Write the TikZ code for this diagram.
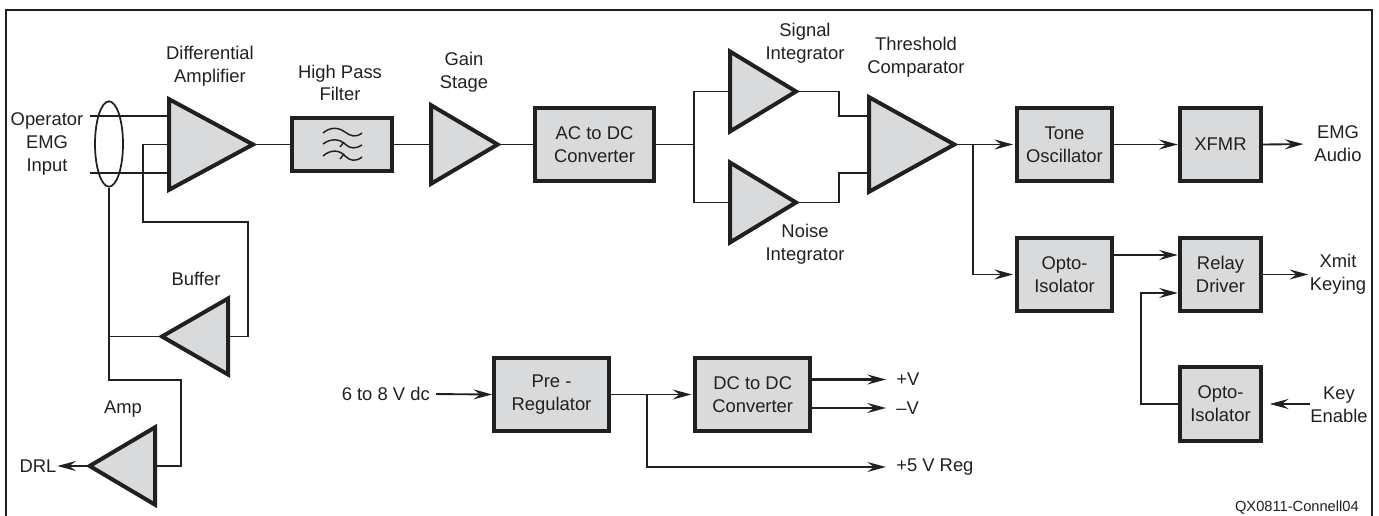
\documentclass[tikz,border=0pt]{standalone}
\usepackage{fontspec}
\setmainfont{Liberation Sans}
\usetikzlibrary{arrows.meta,shapes.geometric}
\definecolor{blockgray}{HTML}{D9DADB}
\definecolor{inkblack}{HTML}{231F20}
\tikzset{
  blocktext/.style = {font=\fontsize{13.8}{17}\selectfont,align=center,text=inkblack,inner sep=0pt},
  smalltext/.style = {font=\fontsize{11}{13}\selectfont,text=inkblack,inner sep=0pt},
  blockbox/.style = {draw=inkblack,fill=blockgray,line width=3pt,rectangle,minimum width=#1,blocktext},
  amptri/.style = {draw=inkblack,fill=blockgray,line width=3pt,isosceles triangle,isosceles triangle stretches,inner sep=0pt,outer sep=0pt,anchor=lower side},
  wire/.style = {draw=inkblack,line width=1.4pt},
  fine/.style = {draw=inkblack,line width=1.1pt},
  feed/.style = {wire,-{Stealth[length=14pt,width=7.5pt,inset=5pt]}}
}
\begin{document}
\begin{tikzpicture}[x=0.75pt,y=-0.75pt]
  \useasboundingbox (0,0) rectangle (1379,516);
  \draw[draw=inkblack,line width=1.1pt] (6,516) -- (6,10) -- (1372,10) -- (1372,516);

  % amplifiers
  \node[amptri,minimum width=68pt,minimum height=63pt] (diffamp) at (169,144.5) {};
  \node[amptri,minimum width=59pt,minimum height=50pt] (gainamp) at (431,144.5) {};
  \node[amptri,minimum width=60pt,minimum height=49.5pt] (sigint) at (730,91.5) {};
  \node[amptri,minimum width=60pt,minimum height=49.5pt] (noiseint) at (730,202.5) {};
  \node[amptri,minimum width=71pt,minimum height=64pt] (threshcmp) at (869,144.5) {};
  \node[amptri,minimum width=57pt,minimum height=49.5pt,shape border rotate=180] (bufamp) at (228,336.5) {};
  \node[amptri,minimum width=58pt,minimum height=49pt,shape border rotate=180] (drlamp) at (155,466) {};

  % blocks
  \node[blockbox=75pt,minimum height=40pt] (hpf) at (342,144.5) {};
  \node[blockbox=89pt,minimum height=55pt] (acdc) at (594.5,144.5) {AC to DC\\Converter};
  \node[blockbox=71pt,minimum height=55pt] (tone) at (1064.5,144.5) {Tone\\Oscillator};
  \node[blockbox=61pt,minimum height=55pt] (xfmr) at (1220.5,144.5) {XFMR};
  \node[blockbox=71pt,minimum height=55pt] (optoa) at (1064.5,274.5) {Opto-\\Isolator};
  \node[blockbox=61pt,minimum height=55pt] (relay) at (1220.5,274.5) {Relay\\Driver};
  \node[blockbox=61pt,minimum height=55pt] (optob) at (1220.5,404) {Opto-\\Isolator};
  \node[blockbox=86pt,minimum height=55pt] (prereg) at (551.5,394.5) {Pre -\\Regulator};
  \node[blockbox=86pt,minimum height=55pt] (dcdc) at (752.7,394.5) {DC to DC\\Converter};

  % filter symbol
  \draw[fine] (323,133) .. controls (331,126) and (340,128) .. (345,132) .. controls (350,136) and (356,138) .. (362,133);
  \draw[fine] (323,144) .. controls (331,138) and (340,139) .. (345,144) .. controls (350,149) and (356,149) .. (362,145);
  \draw[fine] (323,156) .. controls (331,149) and (340,150) .. (345,156) .. controls (350,161) and (356,162) .. (362,157);
  \draw[fine] (340,147) -- (344,142);
  \draw[fine] (340,159) -- (344,154);

  % labels
  \node[blocktext] (lbldiff) at (210,66) {Differential\\Amplifier};
  \node[blocktext] (lblhpf) at (340,83) {High Pass\\Filter};
  \node[blocktext] (lblgain) at (464,72.5) {Gain\\Stage};
  \node[blocktext] (lblsig) at (805,43) {Signal\\Integrator};
  \node[blocktext] (lblthresh) at (916,57) {Threshold\\Comparator};
  \node[blocktext] (lblnoise) at (805,244) {Noise\\Integrator};
  \node[blocktext] (lblinput) at (47,144) {Operator\\EMG\\Input};
  \node[blocktext] (lblbuf) at (196,279) {Buffer};
  \node[blocktext] (lblamp) at (123,409) {Amp};
  \node[blocktext] (drl) at (38,466) {DRL};
  \node[blocktext] (emgaudio) at (1338,144) {EMG\\Audio};
  \node[blocktext] (xmit) at (1338,274.5) {Xmit\\Keying};
  \node[blocktext] (keyen) at (1339,405) {Key\\Enable};
  \node[blocktext,anchor=east] (vdc) at (430,394) {6 to 8 V dc};
  \node[blocktext,anchor=west] (plusv) at (896,379.5) {+V};
  \node[blocktext,anchor=west] (minusv) at (896,408) {–V};
  \node[blocktext,anchor=west] (fivev) at (896,467) {+5 V Reg};
  \node[smalltext,anchor=east] (figtag) at (1359,508) {QX0811-Connell04};

  % free ends
  \coordinate (inup) at (90,116);
  \coordinate (indown) at (90,173);
  \node[draw=inkblack,line width=1.3pt,ellipse,minimum width=21pt,inner sep=0pt,minimum height=64pt] (cable) at (109,144) {};

  % input side
  \draw[wire] (inup) -- (inup -| diffamp.lower side);
  \draw[wire] (indown) -- (indown -| diffamp.lower side);
  \draw[wire] (cable.south) -- (109,380) -- (181,380) -- (181,466) -- (drlamp.lower side);
  \draw[wire] (109,336.5) -- (bufamp.apex);
  \draw[wire] (bufamp.lower side) -- (248,336.5) -- (248,222) -- (143,222) -- (143,144.5) -- (diffamp.lower side);
  \draw[feed,shorten >=0.5pt] (drlamp.apex) -- (drl.east);

  % signal path
  \draw[wire] (diffamp.apex) -- (hpf.west);
  \draw[wire] (hpf.east) -- (gainamp.lower side);
  \draw[wire] (gainamp.apex) -- (acdc.west);
  \draw[wire] (acdc.east) -- (694,144.5);
  \draw[wire] (sigint.lower side) -- (694,91.5) -- (694,202.5) -- (noiseint.lower side);
  \draw[wire] (sigint.apex) -- (839,91.5) -- (839,116) -- (869,116);
  \draw[wire] (noiseint.apex) -- (839,202.5) -- (839,173) -- (869,173);
  \draw[feed,shorten >=1.5pt] (threshcmp.apex) -- (tone.west);
  \draw[feed,shorten >=1.5pt] (973,144.5) -- (973,274.5) -- (optoa.west);
  \draw[feed] (tone.east) -- (xfmr.west);
  \draw[feed,shorten >=8pt] (xfmr.east) -- (emgaudio.west);
  \draw[feed] (optoa.east |- 0,255) -- (relay.west |- 0,255);
  \draw[feed] (optob.west) -- (1141,404) -- (1141,293) -- (relay.west |- 0,293);
  \draw[feed,shorten >=1pt] (relay.east) -- (xmit.west);
  \draw[feed,shorten >=5pt] (keyen.west |- optob) -- (optob.east);

  % supply
  \draw[feed,shorten <=4.5pt] (vdc.east) -- (prereg.west);
  \draw[feed,shorten >=1.5pt] (prereg.east) -- (dcdc.west);
  \draw[feed,shorten >=7.5pt] (647,394.5) -- (647,467) -- (fivev.west);
  \draw[feed,line width=1.8pt,shorten >=7.5pt] (dcdc.east |- plusv) -- (plusv.west);
  \draw[feed,line width=1.8pt,shorten >=7.5pt] (dcdc.east |- minusv) -- (minusv.west);
\end{tikzpicture}
\end{document}
